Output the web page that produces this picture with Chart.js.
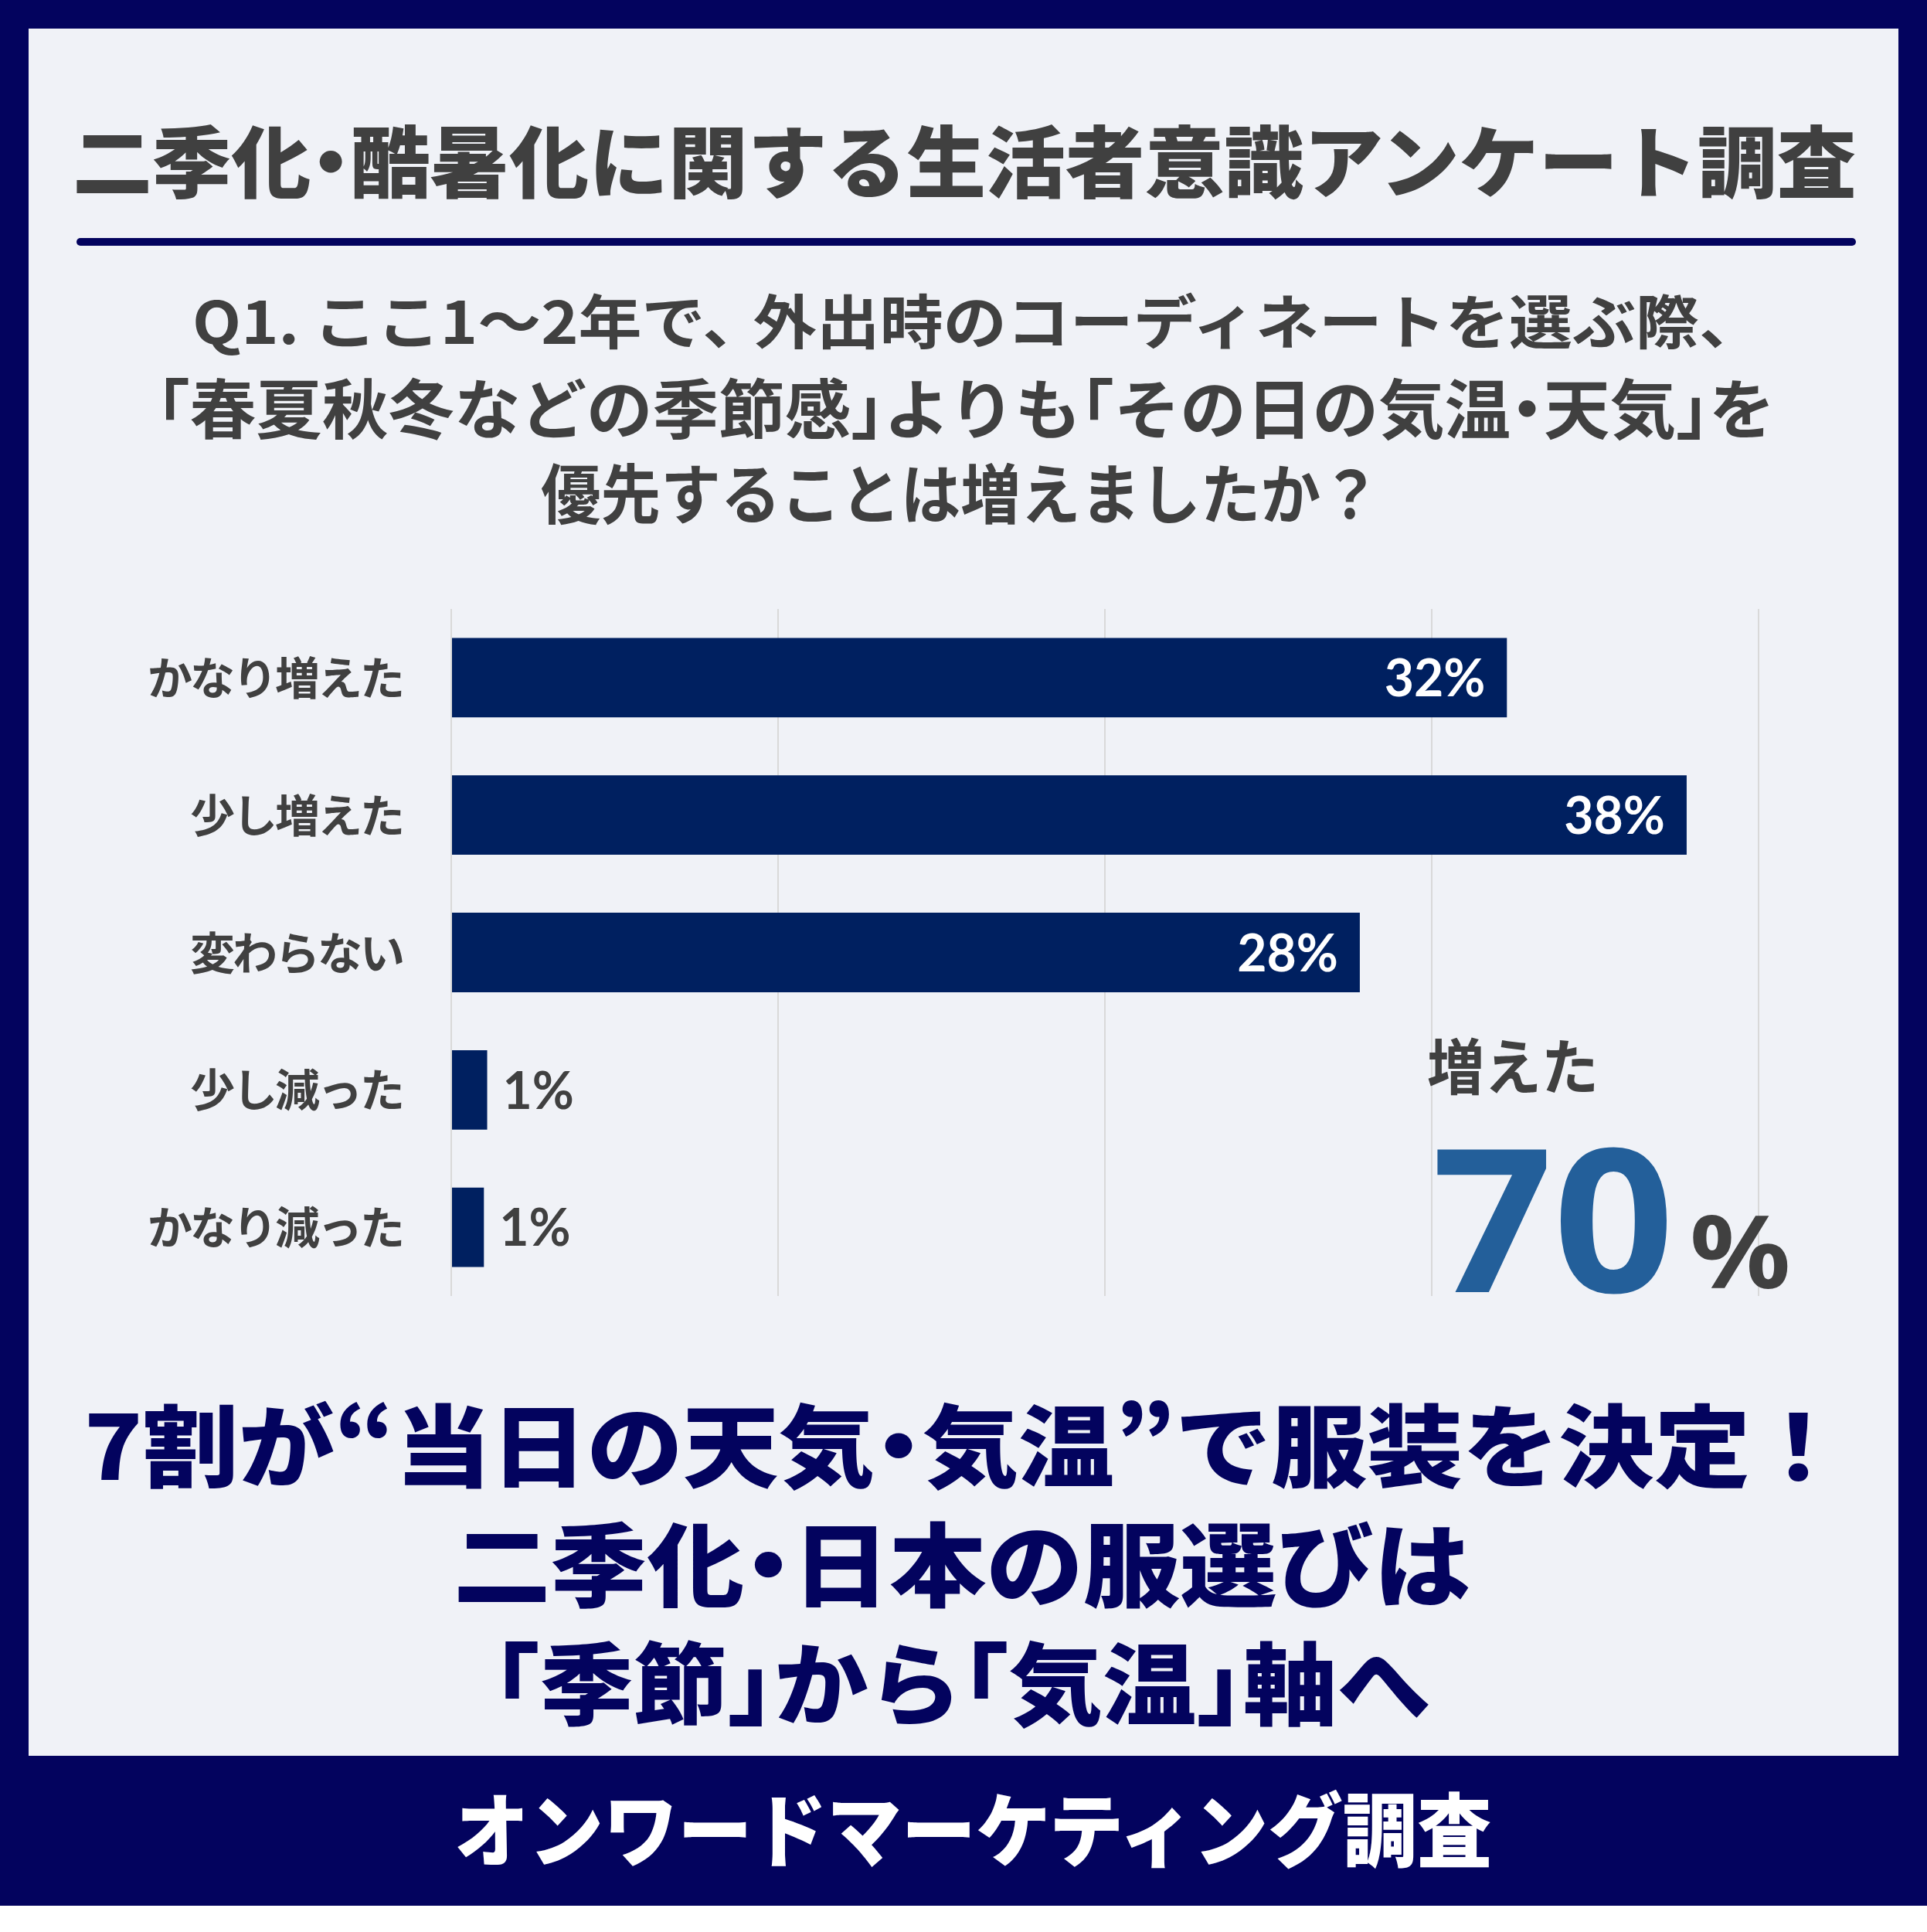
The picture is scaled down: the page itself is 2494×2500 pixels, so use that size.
<!DOCTYPE html>
<html lang="ja">
<head>
<meta charset="utf-8">
<script src="https://cdn.jsdelivr.net/npm/chart.js@4.4.1/dist/chart.umd.min.js"></script>
<style>
  html, body { margin: 0; padding: 0; }
  body { width: 2494px; height: 2500px; background: #ffffff; position: relative; overflow: hidden; }
  #frame { position: absolute; left: 0; top: 0; width: 2494px; height: 2466px; background: #03035e; }
  #panel { position: absolute; left: 37px; top: 37px; width: 2420px; height: 2235px; background: #f0f2f7; }
  #rule { position: absolute; left: 99px; top: 308px; width: 2303px; height: 10px; background: #03035e; border-radius: 5px; }
  #chartBox { position: absolute; left: 150px; top: 760px; width: 2200px; height: 960px; }
  .txt { position: absolute; white-space: pre; transform-origin: 0 0; }
</style>
</head>
<body>
<div id="frame"></div>
<div id="panel"></div>
<div id="rule"></div>
<div id="chartBox"><canvas id="c"></canvas></div>
<script>
// ---- data ----
const categories = ['かなり増えた', '少し増えた', '変わらない', '少し減った', 'かなり減った'];
const shares = [32.3, 37.8, 27.8, 1.1, 1.0];
const shareLabels = ['32%', '38%', '28%', '1%', '1%'];
const xTicks = [0, 10, 20, 30, 40];

const titleText = '二季化・酷暑化に関する生活者意識アンケート調査';
const questionLines = [
  'Q1. ここ1～2年で、外出時のコーディネートを選ぶ際、',
  '「春夏秋冬などの季節感」よりも「その日の気温・天気」を',
  '優先することは増えましたか？'
];
const headlineLines = [
  '7割が“当日の天気・気温”で服装を決定！',
  '二季化・日本の服選びは',
  '「季節」から「気温」軸へ'
];
const totalLabel = '増えた';
const totalValue = '70';
const totalUnit = '%';
const footerText = 'オンワードマーケティング調査';

// ---- text placement (fit glyph box, proportional punctuation) ----
const JP = "'Noto Sans CJK JP', 'Noto Sans', sans-serif";
const TRIM = {
  '・': [-0.25, -0.25], '「': [-0.5, 0], '」': [0, -0.5], '、': [0, -0.2]
};
const mctx = document.createElement('canvas').getContext('2d');
function place(text, family, weight, color, box) {
  const base = 200;
  mctx.font = weight + ' ' + base + 'px ' + family;
  let m = mctx.measureText(text);
  const h0 = m.actualBoundingBoxAscent + m.actualBoundingBoxDescent;
  const fs = base * (box.b - box.t) / h0;
  const font = weight + ' ' + fs + 'px ' + family;
  mctx.font = font;
  m = mctx.measureText(text);
  const baseline = box.t + m.actualBoundingBoxAscent;
  const fA = m.fontBoundingBoxAscent, fD = m.fontBoundingBoxDescent;
  const L = Math.ceil(fs * 1.6);
  const baseOff = (L - fA - fD) / 2 + fA;

  const chars = Array.from(text);
  const first = chars[0], last = chars[chars.length - 1];
  const m1 = mctx.measureText(first), m2 = mctx.measureText(last);
  const lb = -m1.actualBoundingBoxLeft + (TRIM[first] ? TRIM[first][0] : 0) * fs;
  const rb = (m2.width - m2.actualBoundingBoxRight) + (TRIM[last] ? TRIM[last][1] : 0) * fs;

  const d = document.createElement('div');
  d.className = 'txt';
  chars.forEach(ch => {
    if (TRIM[ch]) {
      const s = document.createElement('span');
      s.textContent = ch;
      s.style.marginLeft = TRIM[ch][0] + 'em';
      s.style.marginRight = TRIM[ch][1] + 'em';
      d.appendChild(s);
    } else {
      d.appendChild(document.createTextNode(ch));
    }
  });
  d.style.font = font;
  d.style.lineHeight = L + 'px';
  d.style.color = color;
  d.style.left = '0px';
  d.style.top = (baseline - baseOff) + 'px';
  document.body.appendChild(d);
  const advW = d.getBoundingClientRect().width;
  const sx = (box.r - box.l) / (advW - lb - rb);
  d.style.left = (box.l - sx * lb) + 'px';
  d.style.transform = 'scaleX(' + sx + ')';
}

const GREY = '#404040';
const NAVY = '#03035e';
place(titleText, JP, 900, GREY, {l: 99, r: 2401, t: 160, b: 258});
const qBoxes = [
  {l: 253, r: 2229, t: 378, b: 460},
  {l: 214, r: 2289, t: 488, b: 570},
  {l: 701, r: 1768, t: 598, b: 679}
];
questionLines.forEach((s, i) => place(s, JP, 700, GREY, qBoxes[i]));
const hBoxes = [
  {l: 114, r: 2340, t: 1812, b: 1928},
  {l: 593, r: 1900, t: 1968, b: 2082},
  {l: 654, r: 1850, t: 2122, b: 2237}
];
headlineLines.forEach((s, i) => place(s, JP, 900, NAVY, hBoxes[i]));
place(footerText, JP, 900, '#ffffff', {l: 592, r: 1929, t: 2315, b: 2418});
place(totalLabel, JP, 700, GREY, {l: 1848, r: 2064, t: 1342, b: 1417});
place(totalValue, "'Noto Sans', sans-serif", 700, '#235f9a', {l: 1857, r: 2160, t: 1482, b: 1672});
place(totalUnit, "'Noto Sans', sans-serif", 700, GREY, {l: 2190, r: 2313, t: 1572, b: 1668});

// ---- chart ----
const labelPlugin = {
  id: 'barLabels',
  beforeDraw(chart) { chart.ctx.letterSpacing = '-3px'; },
  afterDatasetsDraw(chart) {
    const ctx = chart.ctx;
    ctx.save();
    ctx.letterSpacing = '0px';
    ctx.font = "700 66px Lato, 'Noto Sans', sans-serif";
    ctx.textBaseline = 'middle';
    chart.getDatasetMeta(0).data.forEach((el, i) => {
      const v = shares[i];
      if (v > 5) {
        ctx.fillStyle = '#ffffff';
        ctx.textAlign = 'right';
        ctx.fillText(shareLabels[i], el.x - 28, el.y + 3);
      } else {
        ctx.fillStyle = GREY;
        ctx.textAlign = 'left';
        ctx.fillText(shareLabels[i], el.x + 20, el.y + 3);
      }
    });
    ctx.restore();
  }
};

new Chart(document.getElementById('c'), {
  type: 'bar',
  data: {
    labels: categories,
    datasets: [{
      data: shares,
      backgroundColor: '#002060',
      borderWidth: 0,
      categoryPercentage: 1,
      barPercentage: 0.578
    }]
  },
  options: {
    indexAxis: 'y',
    responsive: true,
    maintainAspectRatio: false,
    animation: false,
    devicePixelRatio: 1,
    layout: { padding: { top: 28, right: 74, bottom: 43, left: 0 } },
    plugins: { legend: { display: false }, tooltip: { enabled: false } },
    scales: {
      x: {
        min: xTicks[0],
        max: xTicks[xTicks.length - 1],
        afterBuildTicks(scale) { scale.ticks = xTicks.map(v => ({ value: v })); },
        afterFit(scale) { scale.height = 0; scale.paddingLeft = 0; scale.paddingRight = 0; },
        ticks: { display: false },
        grid: { color: '#d9d9d9', lineWidth: 2, drawTicks: false },
        border: { display: false }
      },
      y: {
        afterFit(scale) { scale.width = 434; scale.paddingTop = 0; scale.paddingBottom = 0; },
        grid: { display: false, drawTicks: false },
        border: { display: false },
        ticks: {
          color: GREY,
          padding: 63,
          font: { family: "'Noto Sans CJK JP', sans-serif", size: 58, weight: 700 }
        }
      }
    }
  },
  plugins: [labelPlugin]
});
</script>
</body>
</html>
